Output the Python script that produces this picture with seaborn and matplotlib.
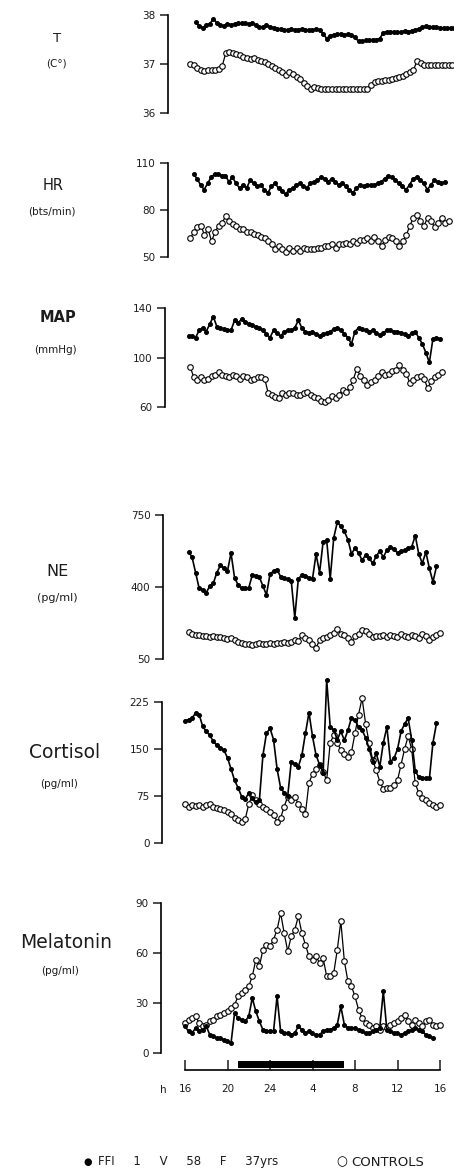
import numpy as np
import matplotlib
matplotlib.use("Agg")
import matplotlib.pyplot as plt
import seaborn as sns

# ---------------- data (hours from 16 h day 1 to 16 h day 2 = 40) ----------------
T_ffi_span = (17.0, 41.33)
T_ffi = [37.85, 37.78, 37.74, 37.80, 37.82, 37.92, 37.84, 37.80, 37.78, 37.82, 37.80, 37.82,
         37.83, 37.83, 37.83, 37.82, 37.83, 37.80, 37.76, 37.76, 37.80, 37.76, 37.74, 37.72,
         37.72, 37.70, 37.70, 37.71, 37.70, 37.70, 37.72, 37.70, 37.70, 37.70, 37.71, 37.70,
         37.62, 37.52, 37.58, 37.60, 37.61, 37.62, 37.60, 37.61, 37.60, 37.55, 37.46, 37.46,
         37.48, 37.49, 37.50, 37.50, 37.52, 37.64, 37.66, 37.66, 37.66, 37.65, 37.66, 37.67,
         37.66, 37.68, 37.70, 37.72, 37.75, 37.77, 37.76, 37.76, 37.75, 37.74, 37.74, 37.73,
         37.74, 37.74]
T_ctl_span = (16.5, 41.17)
T_ctl = [37.00, 36.98, 36.92, 36.88, 36.86, 36.88, 36.87, 36.88, 36.90, 36.96, 37.22, 37.25,
         37.22, 37.20, 37.18, 37.14, 37.12, 37.10, 37.12, 37.08, 37.06, 37.04, 37.00, 36.96,
         36.92, 36.88, 36.84, 36.78, 36.84, 36.80, 36.74, 36.70, 36.62, 36.56, 36.48, 36.54,
         36.52, 36.50, 36.49, 36.50, 36.48, 36.49, 36.48, 36.48, 36.49, 36.48, 36.48, 36.49,
         36.48, 36.50, 36.49, 36.58, 36.64, 36.66, 36.66, 36.67, 36.68, 36.70, 36.72, 36.74,
         36.76, 36.80, 36.84, 36.88, 37.06, 37.02, 36.98, 36.98, 36.97, 36.98, 36.97, 36.98,
         36.98, 36.97, 36.98]

HR_ffi_span = (16.8, 40.47)
HR_ffi = [103, 100, 96, 93, 97, 101, 103, 103, 102, 102, 98, 101, 97, 94, 96, 94, 99, 97,
          95, 96, 93, 91, 95, 97, 94, 92, 90, 93, 94, 96, 97, 95, 94, 97, 98, 99, 101, 100,
          98, 100, 98, 96, 97, 95, 93, 91, 94, 96, 95, 96, 96, 96, 97, 98, 100, 102, 101, 99,
          97, 95, 93, 96, 100, 101, 99, 97, 93, 96, 99, 98, 97, 98]
HR_ctl_span = (16.5, 40.83)
HR_ctl = [62, 66, 69, 70, 64, 68, 60, 66, 70, 72, 76, 73, 71, 70, 68, 68, 66, 66, 65, 64,
          63, 62, 60, 58, 55, 57, 55, 53, 56, 54, 56, 54, 56, 55, 55, 55, 56, 56, 57, 57,
          58, 56, 58, 58, 59, 58, 60, 59, 61, 61, 62, 60, 63, 60, 57, 61, 63, 62, 60, 57,
          60, 64, 70, 75, 77, 73, 70, 75, 73, 69, 72, 75, 72, 73]

MAP_ffi_span = (16.33, 40.0)
MAP_ffi = [117, 117, 116, 122, 124, 121, 127, 133, 125, 124, 123, 122, 122, 130, 128, 131,
           129, 127, 126, 125, 124, 122, 119, 116, 122, 120, 117, 121, 122, 122, 124, 130,
           124, 121, 120, 121, 119, 117, 119, 120, 121, 123, 124, 122, 119, 116, 111, 121,
           124, 123, 122, 121, 122, 120, 118, 120, 122, 122, 121, 121, 120, 119, 117, 120,
           121, 116, 111, 104, 96, 115, 116, 115]
MAP_ctl_span = (16.5, 40.17)
MAP_ctl = [92, 84, 82, 84, 82, 83, 85, 86, 88, 86, 85, 84, 86, 85, 83, 85, 84, 82, 83, 84,
           84, 83, 71, 70, 68, 67, 71, 70, 71, 71, 70, 70, 71, 72, 70, 68, 67, 65, 64, 66,
           69, 67, 70, 74, 72, 76, 82, 91, 85, 82, 78, 80, 82, 85, 88, 86, 87, 89, 90, 94,
           90, 87, 79, 82, 84, 85, 83, 75, 81, 84, 86, 88]

NE_ffi_span = (16.33, 39.67)
NE_ffi = [572, 545, 470, 394, 385, 372, 405, 418, 470, 505, 492, 478, 565, 445, 410, 394,
          394, 395, 458, 455, 448, 405, 362, 462, 478, 485, 450, 442, 440, 430, 250, 440,
          458, 455, 445, 440, 560, 470, 620, 628, 440, 640, 715, 695, 670, 630, 560, 590,
          565, 530, 555, 540, 515, 550, 575, 545, 580, 595, 585, 565, 575, 580, 590, 595,
          650, 560, 515, 570, 490, 425, 500]
NE_ctl_span = (16.33, 40.0)
NE_ctl = [180, 172, 168, 165, 160, 163, 158, 162, 155, 158, 150, 145, 150, 140, 135, 130,
          122, 125, 120, 124, 126, 122, 125, 128, 124, 130, 128, 132, 130, 135, 140, 138,
          165, 150, 140, 125, 105, 140, 150, 158, 165, 178, 195, 170, 165, 150, 132, 160,
          170, 190, 185, 172, 158, 163, 160, 166, 158, 168, 160, 158, 170, 160, 155, 168,
          160, 152, 170, 162, 140, 158, 165, 175]

CORT_ffi_span = (16.0, 39.67)
CORT_ffi = [195, 197, 200, 207, 205, 186, 178, 172, 162, 156, 152, 148, 136, 118, 100, 88,
            74, 70, 80, 72, 66, 68, 140, 175, 183, 165, 118, 88, 80, 75, 130, 126, 122, 140,
            175, 208, 170, 140, 125, 112, 260, 185, 180, 165, 178, 164, 180, 200, 196, 185,
            180, 168, 150, 130, 143, 122, 160, 185, 130, 135, 150, 178, 190, 199, 165, 115,
            105, 103, 103, 103, 160, 191]
CORT_ctl_span = (16.0, 40.0)
CORT_ctl = [63, 58, 60, 59, 61, 58, 60, 62, 58, 56, 55, 52, 50, 46, 40, 36, 34, 38, 62, 76,
            68, 62, 58, 55, 50, 45, 34, 40, 58, 74, 68, 74, 62, 55, 47, 96, 110, 118, 124,
            114, 100, 160, 172, 160, 148, 142, 138, 145, 175, 205, 231, 190, 160, 132, 116,
            98, 86, 88, 87, 92, 100, 125, 150, 170, 150, 95, 80, 72, 68, 64, 60, 58, 60]

MEL_ffi_span = (16.0, 39.33)
MEL_ffi = [16, 13, 12, 15, 13, 14, 16, 11, 10, 9, 9, 8, 7, 6, 24, 21, 20, 19, 22, 33, 25,
           19, 14, 13, 13, 13, 34, 13, 12, 12, 11, 12, 16, 14, 12, 13, 12, 11, 11, 13, 14,
           14, 15, 17, 28, 17, 15, 15, 15, 14, 13, 12, 12, 13, 14, 15, 37, 14, 13, 12, 12,
           11, 12, 13, 14, 15, 14, 13, 11, 10, 9]
MEL_ctl_span = (16.0, 40.0)
MEL_ctl = [18, 20, 21, 22, 18, 16, 17, 19, 20, 22, 23, 24, 25, 27, 29, 34, 36, 38, 40, 46,
           56, 52, 62, 65, 64, 68, 74, 84, 72, 61, 70, 74, 82, 72, 65, 58, 56, 58, 54, 57,
           46, 46, 48, 62, 79, 55, 43, 40, 34, 26, 21, 18, 17, 15, 16, 14, 16, 15, 17, 18,
           19, 21, 23, 19, 17, 20, 18, 16, 19, 20, 17, 16, 17]

dark_start, dark_end = 21, 31          # black bar (dark period)
hour_ticks = [16, 20, 24, 28, 32, 36, 40]
hour_labels = ["16", "20", "24", "4", "8", "12", "16"]

panels = [
    # name, unit, ffi, ffi span, ctl, ctl span, yticks
    ("T", "(C°)", T_ffi, T_ffi_span, T_ctl, T_ctl_span, [36, 37, 38]),
    ("HR", "(bts/min)", HR_ffi, HR_ffi_span, HR_ctl, HR_ctl_span, [50, 80, 110]),
    ("MAP", "(mmHg)", MAP_ffi, MAP_ffi_span, MAP_ctl, MAP_ctl_span, [60, 100, 140]),
    ("NE", "(pg/ml)", NE_ffi, NE_ffi_span, NE_ctl, NE_ctl_span, [50, 400, 750]),
    ("Cortisol", "(pg/ml)", CORT_ffi, CORT_ffi_span, CORT_ctl, CORT_ctl_span, [0, 75, 150, 225]),
    ("Melatonin", "(pg/ml)", MEL_ffi, MEL_ffi_span, MEL_ctl, MEL_ctl_span, [0, 30, 60, 90]),
]

# ---------------- layout (pixels) ----------------
W, H = 454, 1170
layout = [
    dict(left=168, ytop=15, ybot=113, ylim=(36, 38), name_xy=(57, 38, 9.5, "normal"), unit_xy=(56, 63, 7.5)),
    dict(left=168, ytop=163, ybot=257, ylim=(50, 110), name_xy=(53, 186, 10.5, "normal"), unit_xy=(52, 212, 7.5)),
    dict(left=165, ytop=308, ybot=407, ylim=(60, 140), name_xy=(58, 318, 10.5, "semibold"), unit_xy=(55, 350, 7.5)),
    dict(left=163, ytop=515, ybot=659, ylim=(50, 750), name_xy=(57, 571, 11.5, "normal"), unit_xy=(57, 598, 8)),
    dict(left=162, ytop=702, ybot=843, ylim=(0, 225), name_xy=(65, 752, 13.5, "normal"), unit_xy=(59, 784, 7.5)),
    dict(left=161, ytop=903, ybot=1053, ylim=(0, 90), name_xy=(66, 942, 13.5, "normal"), unit_xy=(60, 971, 7.5)),
]
extend_top = {4: 270}        # cortisol axis extends above last tick
extend_bot = {5: 1070}       # melatonin: time axis below


def px2h(x):
    return 16 + (x - 185) * 4 / 42.5


sns.set_theme(style="ticks")
plt.rcParams["font.family"] = ["DejaVu Sans"]
fig = plt.figure(figsize=(W / 100, H / 100), dpi=100)
fig.patch.set_facecolor("white")

txt_col = "#1c1c1c"
axes = []
for i, (p, lay) in enumerate(zip(panels, layout)):
    name, unit, ffi, ffi_span, ctl, ctl_span, yticks = p
    y0, y1 = lay["ylim"]
    ppu = (lay["ybot"] - lay["ytop"]) / (y1 - y0)
    top_val = extend_top.get(i, y1)
    top_px = lay["ybot"] - (top_val - y0) * ppu
    bot_px = extend_bot.get(i, lay["ybot"])
    bot_val = y0 - (bot_px - lay["ybot"]) / ppu
    left = lay["left"]
    ax = fig.add_axes([left / W, 1 - bot_px / H, (W - left) / W, (bot_px - top_px) / H])
    ax.set_facecolor("none")
    ax.set_xlim(px2h(left), px2h(W))
    ax.set_ylim(bot_val, top_val)

    t_c = np.linspace(ctl_span[0], ctl_span[1], len(ctl))
    t_f = np.linspace(ffi_span[0], ffi_span[1], len(ffi))
    sns.lineplot(x=t_c, y=ctl, ax=ax, color="black", linewidth=0.9, marker="o",
                 markersize=4.0, markerfacecolor="white", markeredgecolor="black",
                 markeredgewidth=0.8, clip_on=False)
    sns.lineplot(x=t_f, y=ffi, ax=ax, color="black", linewidth=1.2, marker="o",
                 markersize=2.8, markerfacecolor="black", markeredgecolor="black",
                 clip_on=False)

    for s in ["top", "right", "bottom"]:
        ax.spines[s].set_visible(False)
    ax.spines["left"].set_bounds(y0, y1)
    ax.spines["left"].set_linewidth(1.2)
    ax.spines["left"].set_color("black")
    ax.set_yticks(yticks)
    ax.set_yticklabels([str(v) for v in yticks])
    ax.tick_params(axis="y", direction="out", length=6, width=1.1, pad=3,
                   labelsize=7.5, colors=txt_col)
    ax.set_xticks([])
    ax.set_xlabel("")
    ax.set_ylabel("")
    nx, ny, ns, nw = lay["name_xy"]
    ux, uy, us = lay["unit_xy"]
    fig.text(nx / W, 1 - ny / H, name, ha="center", va="center", fontsize=ns,
             fontweight=nw, color=txt_col)
    fig.text(ux / W, 1 - uy / H, unit, ha="center", va="center", fontsize=us, color=txt_col)
    axes.append(ax)

# time axis on the melatonin panel
ax = axes[-1]
ax.spines["bottom"].set_visible(True)
ax.spines["bottom"].set_bounds(hour_ticks[0], hour_ticks[-1])
ax.spines["bottom"].set_linewidth(1.2)
ax.spines["bottom"].set_color("black")
ax.set_xticks(hour_ticks)
ax.set_xticklabels(hour_labels)
ax.tick_params(axis="x", direction="in", length=7, width=1.1, pad=10,
               labelsize=7.5, colors=txt_col, bottom=True)
ax.fill_between([dark_start, dark_end], -9.3, -4.6, color="black", linewidth=0, clip_on=False)
fig.text(163 / W, 1 - 1090 / H, "h", ha="center", va="center", fontsize=7.5, color=txt_col)

# legend line
fig.text(88 / W, 1 - 1162 / H, "●", ha="center", va="center", fontsize=7, color="black")
fig.text(98 / W, 1 - 1162 / H, "FFI     1     V     58     F     37yrs", ha="left", va="center",
         fontsize=8.5, color=txt_col)
fig.text(342 / W, 1 - 1162 / H, "○", ha="center", va="center", fontsize=9, color="black")
fig.text(351 / W, 1 - 1162 / H, "CONTROLS", ha="left", va="center", fontsize=9.5, color=txt_col)

fig.savefig("out.png", dpi=100, facecolor="white")
